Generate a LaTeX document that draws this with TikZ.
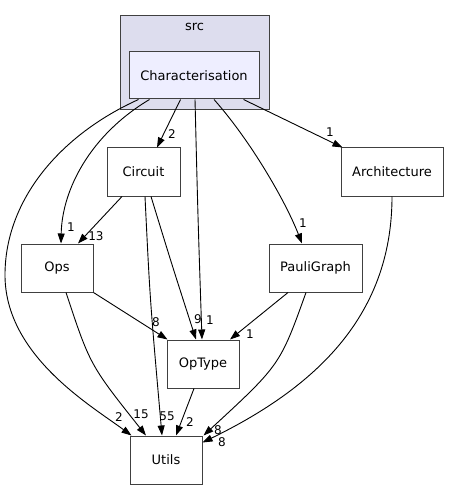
\documentclass[tikz,border=0pt]{standalone}
\usepackage{fontspec}
\setmainfont{DejaVu Sans}
\usetikzlibrary{arrows.meta,calc}
\definecolor{clusterfill}{HTML}{DDDDEE}
\definecolor{chfill}{HTML}{EEEEFF}
\definecolor{bordergray}{HTML}{404040}
\tikzset{
  box/.style={draw=bordergray,line width=1pt,fill=white,minimum height=48pt,inner sep=0pt,font=\fontsize{13}{15}\selectfont},
  dep/.style={draw=black,line width=0.9pt,-{Triangle[length=10pt,width=7pt]}},
  lbl/.style={inner sep=0pt,font=\fontsize{12}{14}\selectfont}
}
\begin{document}
\begin{tikzpicture}[x=1pt,y=-1pt]
\useasboundingbox (0,0) rectangle (448,489);
\node[draw=bordergray,line width=1pt,fill=clusterfill,minimum width=149pt,minimum height=94pt,inner sep=0pt] (src) at (194.5,63) {};
\node[lbl,font=\fontsize{13}{15}\selectfont] (srclbl) at (194.5,27) {src};
\node[box,fill=chfill,minimum width=130pt,minimum height=47pt] (ch) at (194,75.5) {Characterisation};
\node[box,minimum width=73pt] (ci) at (143.5,172) {Circuit};
\node[box,minimum width=102pt] (ar) at (392,172) {Architecture};
\node[box,minimum width=72pt] (ops) at (57,268) {Ops};
\node[box,minimum width=93pt] (pg) at (315.5,268) {PauliGraph};
\node[box,minimum width=72pt] (ot) at (203,364) {OpType};
\node[box,minimum width=72pt] (ut) at (166,460) {Utils};

% Characterisation edges
\draw[dep] ([xshift=10pt]ch.south west) .. controls (60,135) and (5,200) .. (5,275) .. controls (5,355) and (90,405) .. ([xshift=2pt]ut.north west);
\draw[dep] ([xshift=21pt]ch.south west) .. controls (90,135) and (62,190) .. ([xshift=4pt]ops.north);
\draw[dep] ([xshift=52pt]ch.south west) -- ([xshift=13.5pt]ci.north);
\draw[dep] ([xshift=1pt]ch.south) .. controls (198,220) .. ([xshift=-1pt]ot.north);
\draw[dep] ([xshift=20pt]ch.south) .. controls (250,140) and (285,200) .. ([xshift=-13.5pt]pg.north);
\draw[dep] ([xshift=-16pt]ch.south east) -- ([xshift=2pt]ar.north west);
% Circuit edges
\draw[dep] ([xshift=-21.5pt]ci.south) -- ([xshift=21pt]ops.north);
\draw[dep] ([xshift=7.5pt]ci.south) .. controls (172,265) .. ([xshift=-7pt]ot.north);
\draw[dep] ([xshift=1.5pt]ci.south) .. controls (150,300) .. ([xshift=-4pt]ut.north);
% Ops edges
\draw[dep] (ops.south east) -- ([xshift=1pt]ot.north west);
\draw[dep] ([xshift=9pt]ops.south) .. controls (90,365) .. ([xshift=-20pt]ut.north);
% PauliGraph edges
\draw[dep] ([xshift=-27.5pt]pg.south) -- ([xshift=27pt]ot.north);
\draw[dep] ([xshift=-9.5pt]pg.south) .. controls (280,365) .. ([xshift=1pt]ut.north east);
% Architecture edge
\draw[dep] (ar.south) .. controls (392,320) and (310,390) .. ([yshift=-7pt]ut.north east);
% OpType edge
\draw[dep] ([xshift=-9pt]ot.south) -- ([xshift=10pt]ut.north);

% labels
\node[lbl] (l1) at (172,134) {2};
\node[lbl] (l2) at (330,132) {1};
\node[lbl] (l3) at (71,227) {1};
\node[lbl] (l4) at (96,236) {13};
\node[lbl] (l5) at (303,223) {1};
\node[lbl] (l6) at (156,322) {8};
\node[lbl] (l7) at (198,319) {9};
\node[lbl] (l8) at (210,320) {1};
\node[lbl] (l9) at (250,334) {1};
\node[lbl] (l10) at (119,417) {2};
\node[lbl] (l11) at (141,414) {15};
\node[lbl] (l12) at (167,416) {55};
\node[lbl] (l13) at (190,422) {2};
\node[lbl] (l14) at (218,430) {8};
\node[lbl] (l15) at (222,442) {8};
\end{tikzpicture}
\end{document}
